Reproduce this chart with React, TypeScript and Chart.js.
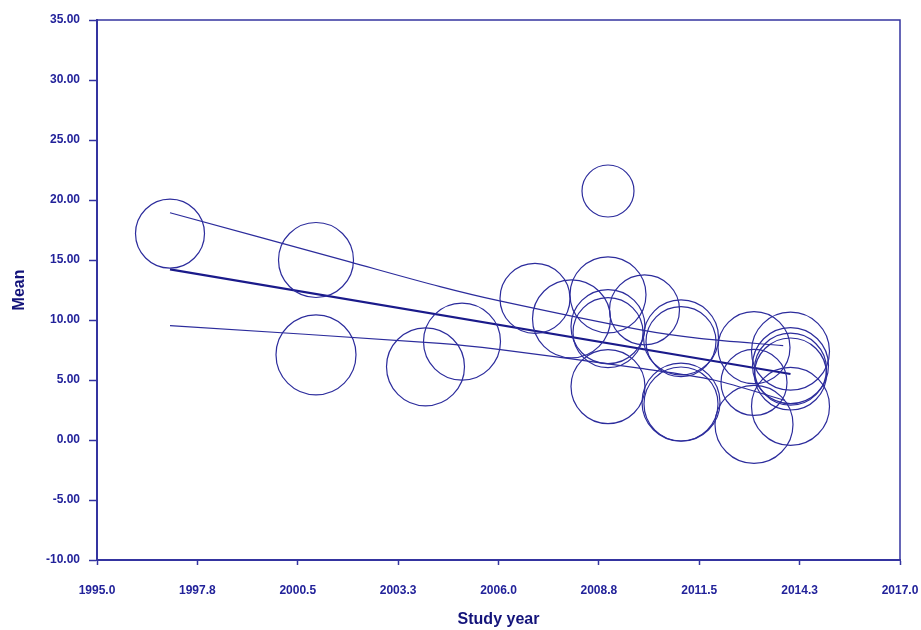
import React, { useEffect, useRef } from "react";
import { Chart, registerables } from "chart.js";

Chart.register(...registerables);

// Study-level bubbles (year, mean, bubble radius)
const studyYear = [
  1997.0, 2001.0, 2001.0, 2004.0, 2005.0, 2009.0, 2007.0, 2008.0, 2009.0, 2009.0,
  2009.0, 2009.0, 2010.0, 2011.0, 2011.0, 2011.0, 2011.0, 2013.0, 2013.0, 2013.0,
  2014.0, 2014.0, 2014.0, 2014.0, 2014.0,
];
const studyMean = [
  17.2, 15.0, 7.1, 6.1, 8.2, 20.75, 11.8, 10.1, 12.1, 9.45,
  8.95, 4.45, 10.85, 8.55, 8.2, 3.15, 3.0, 7.7, 4.8, 1.3,
  7.4, 6.2, 5.9, 5.5, 2.8,
];
const studyRadius = [
  34.5, 37.5, 40, 39, 38.5, 26, 35, 39, 38, 37,
  35, 37, 35, 37.5, 35, 39, 37, 36, 33, 39,
  39, 38, 36, 36, 39,
];

// Regression line and its confidence bounds
const fitYears = [1997.0, 2014.0];
const fitMeans = [14.22, 5.5];
const upperYears = [1997.0, 2001.9, 2004.4, 2006.0, 2009.9, 2011.5, 2013.8];
const upperMeans = [18.94, 14.86, 12.78, 11.61, 9.17, 8.47, 7.86];
const lowerYears = [1997.0, 2004.4, 2006.0, 2009.9, 2011.9, 2013.85];
const lowerMeans = [9.53, 8.06, 7.56, 5.97, 5.0, 3.3];

const xTicks = [1995.0, 1997.75, 2000.5, 2003.25, 2006.0, 2008.75, 2011.5, 2014.25, 2017.0];
const yTicks = [-10, -5, 0, 5, 10, 15, 20, 25, 30, 35];

const LINE = "#2c2c9c";
const AXIS = "#3434a0";
const TICK_TXT = "#22229a";
const TITLE = "#13137a";

const toPts = (xs: number[], ys: number[]) => xs.map((x, i) => ({ x, y: ys[i] }));

export default function App() {
  const ref = useRef<HTMLCanvasElement | null>(null);

  useEffect(() => {
    if (!ref.current) return;
    const boxPlugin = {
      id: "box",
      afterDatasetsDraw(chart: any) {
        const { ctx, chartArea: a } = chart;
        ctx.save();
        ctx.strokeStyle = AXIS;
        ctx.lineWidth = 1.5;
        ctx.beginPath();
        ctx.moveTo(a.left, a.top);
        ctx.lineTo(a.right, a.top);
        ctx.lineTo(a.right, a.bottom);
        ctx.stroke();
        ctx.restore();
      },
    };
    const chart = new Chart(ref.current, {
      type: "bubble",
      data: {
        datasets: [
          {
            type: "bubble",
            data: studyYear.map((x, i) => ({ x, y: studyMean[i], r: studyRadius[i] })),
            borderColor: LINE,
            backgroundColor: "rgba(0,0,0,0)",
            borderWidth: 1.2,
            hoverRadius: 0,
          } as any,
          {
            type: "line",
            data: toPts(fitYears, fitMeans),
            borderColor: "#1a1a8a",
            borderWidth: 2.2,
            pointRadius: 0,
            fill: false,
          } as any,
          {
            type: "line",
            data: toPts(upperYears, upperMeans),
            borderColor: LINE,
            borderWidth: 1.2,
            pointRadius: 0,
            tension: 0.3,
            fill: false,
          } as any,
          {
            type: "line",
            data: toPts(lowerYears, lowerMeans),
            borderColor: LINE,
            borderWidth: 1.2,
            pointRadius: 0,
            tension: 0.3,
            fill: false,
          } as any,
        ],
      },
      options: {
        animation: false,
        responsive: true,
        maintainAspectRatio: false,
        layout: { autoPadding: false, padding: { top: 20, right: 21, left: 0, bottom: 0 } },
        plugins: { legend: { display: false }, tooltip: { enabled: false } },
        scales: {
          x: {
            type: "linear",
            min: 1995,
            max: 2017,
            afterBuildTicks: (s: any) => {
              s.ticks = xTicks.map((v) => ({ value: v }));
            },
            afterFit: (s: any) => {
              s.height = 70;
              s.paddingLeft = 0;
              s.paddingRight = 0;
            },
            border: { display: true, color: AXIS, width: 2 },
            grid: { drawOnChartArea: false, drawTicks: true, tickLength: 5, tickColor: AXIS, tickWidth: 1.5 },
            ticks: {
              padding: 18,
              color: TICK_TXT,
              font: { family: "'Liberation Sans', Arial, sans-serif", size: 12, weight: "bold" },
              maxRotation: 0,
              autoSkip: false,
              callback: (v: any) => Number(v).toFixed(1),
            },
            title: {
              display: true,
              text: "Study year",
              color: TITLE,
              padding: { top: 0, bottom: 1 },
              font: { family: "'Liberation Sans', Arial, sans-serif", size: 16, weight: "bold" },
            },
          },
          y: {
            type: "linear",
            min: -10,
            max: 35,
            afterBuildTicks: (s: any) => {
              s.ticks = yTicks.map((v) => ({ value: v }));
            },
            afterFit: (s: any) => {
              s.width = 97;
              s.paddingTop = 0;
              s.paddingBottom = 0;
            },
            border: { display: true, color: AXIS, width: 2 },
            grid: { drawOnChartArea: false, drawTicks: true, tickLength: 8, tickColor: AXIS, tickWidth: 1.5 },
            ticks: {
              padding: 9,
              color: TICK_TXT,
              font: { family: "'Liberation Sans', Arial, sans-serif", size: 12, weight: "bold" },
              autoSkip: false,
              callback: (v: any) => Number(v).toFixed(2),
            },
            title: {
              display: true,
              text: "Mean",
              color: TITLE,
              padding: { top: 10, bottom: 0 },
              font: { family: "'Liberation Sans', Arial, sans-serif", size: 16, weight: "bold" },
            },
          },
        },
      } as any,
      plugins: [boxPlugin],
    });
    return () => chart.destroy();
  }, []);

  return (
    <div style={{ position: "absolute", left: 0, top: 0, width: 921, height: 630, background: "#fff" }}>
      <canvas ref={ref} />
    </div>
  );
}
